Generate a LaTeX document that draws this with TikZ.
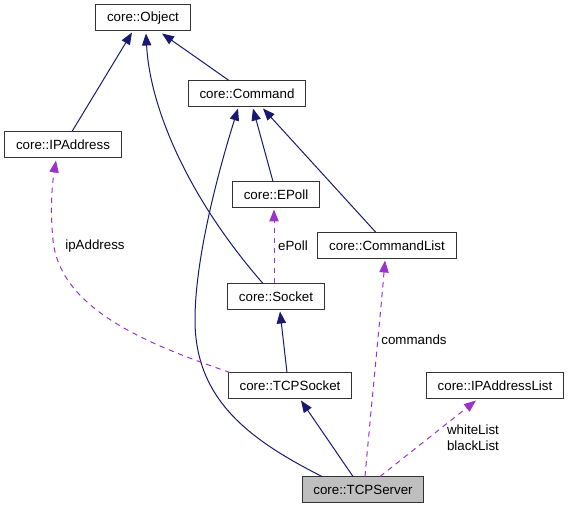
\documentclass[tikz,border=0pt]{standalone}
\usepackage{fontspec}
\setmainfont{Liberation Sans}
\usetikzlibrary{calc, arrows.meta, positioning}
\definecolor{edgeblue}{RGB}{25,25,112}
\definecolor{edgepurple}{RGB}{154,50,205}

\begin{document}
\begin{tikzpicture}[x=0.75pt, y=-0.75pt,
		cls/.style={draw=black!80, line width=0.75pt, minimum height=19.5pt, inner xsep=8.5pt, inner ysep=0pt, font=\fontsize{10}{12}\selectfont},
		inh/.style={edgeblue, line width=0.75pt, -{Triangle[length=9pt,width=7pt]}},
		usage/.style={edgepurple, line width=0.75pt, dash pattern=on 4pt off 3.5pt, -{Triangle[length=9pt,width=7pt]}},
		lbl/.style={font=\fontsize{10}{12}\selectfont, align=left, inner sep=0pt}]
	\useasboundingbox (0,0) rectangle (569,509);
	% classes
	\node[cls] (object) at (143,18) {core::Object};
	\node[cls] (command) at (247,94) {core::Command};
	\node[cls] (ipaddress) at (63,145) {core::IPAddress};
	\node[cls] (epoll) at (276,195) {core::EPoll};
	\node[cls] (commandlist) at (387,246) {core::CommandList};
	\node[cls] (socket) at (276,297) {core::Socket};
	\node[cls] (tcpsocket) at (290,386) {core::TCPSocket};
	\node[cls] (ipaddresslist) at (495,386) {core::IPAddressList};
	\node[cls, fill=black!25] (tcpserver) at (363,490) {core::TCPServer};
	% inheritance
	\draw[inh] ($(ipaddress.north)+(9,0)$) -- ($(object.south)+(-11,1)$);
	\draw[inh] ($(socket.north)+(-13,0)$) .. controls (190,200) and (150,110) .. ($(object.south)+(3,2)$);
	\draw[inh] ($(command.north)+(-18,0)$) -- ($(object.south)+(19,2)$);
	\draw[inh] ($(tcpserver.north)+(-41,0)$) .. controls (250,440) and (195,400) .. (195,320) .. controls (195,250) and (225,150) .. ($(command.south)+(-9,1)$);
	\draw[inh] ($(epoll.north)+(-3,0)$) -- ($(command.south)+(6,1)$);
	\draw[inh] ($(commandlist.north)+(-11,0)$) -- ($(command.south)+(16,1)$);
	\draw[inh] ($(tcpsocket.north)+(-3,0)$) -- ($(socket.south)+(4,1)$);
	\draw[inh] ($(tcpserver.north)+(-10,0)$) -- ($(tcpsocket.south)+(11,1)$);
	% members
	\draw[usage] ($(socket.north)+(-2,0)$) -- ($(epoll.south)+(-2,1)$);
	\draw[usage] ($(tcpsocket.north)+(-60,0)$) .. controls (150,345) and (60,310) .. (53,240) .. controls (50,210) and (52,185) .. ($(ipaddress.south)+(-7,2)$);
	\draw[usage] ($(tcpserver.north)+(2,0)$) .. controls (370,420) and (380,320) .. ($(commandlist.south)+(-2,1)$);
	\draw[usage] ($(tcpserver.north)+(17,0)$) -- ($(ipaddresslist.south)+(-19,1)$);
	\node[lbl] (epolllbl) at (293,246) {ePoll};
	\node[lbl] (iplbl) at (95,246) {ipAddress};
	\node[lbl] (cmdlbl) at (414,340) {commands};
	\node[lbl] (listlbl) at (473,438) {whiteList\\blackList};
\end{tikzpicture}
\end{document}
